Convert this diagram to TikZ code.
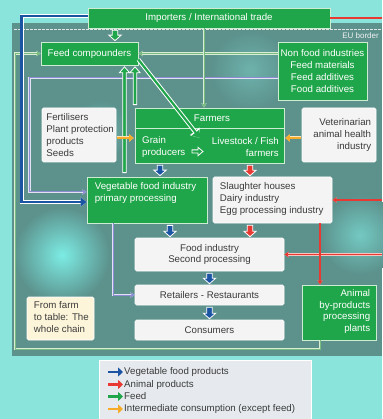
\documentclass[tikz,border=0pt]{standalone}
\usepackage{fontspec}
\setmainfont{Liberation Sans}
\usetikzlibrary{arrows.meta,calc}

\definecolor{grn}{RGB}{32,166,74}
\definecolor{grnedge}{RGB}{205,236,210}
\definecolor{vblue}{RGB}{28,84,164}
\definecolor{ared}{RGB}{232,58,50}
\definecolor{redge}{RGB}{246,196,190}
\definecolor{iorng}{RGB}{246,172,40}
\definecolor{lav}{RGB}{140,140,210}
\definecolor{pgrn}{RGB}{120,188,130}
\definecolor{pgedge}{RGB}{218,238,214}
\definecolor{boxw}{RGB}{244,244,244}
\definecolor{cream}{RGB}{253,245,218}
\definecolor{legbg}{RGB}{230,234,238}
\definecolor{txt}{RGB}{58,58,58}
\definecolor{tealdk}{RGB}{92,145,140}
\definecolor{tealmd}{RGB}{110,178,172}
\definecolor{cyanlt}{RGB}{138,228,220}
\definecolor{cyanbr}{RGB}{124,236,228}

\tikzset{
  base/.style={font=\fontsize{9.7}{11.7}\selectfont},
  gbox/.style={draw=grnedge, line width=0.7pt, fill=grn, inner sep=0pt, base, text=white, align=center},
  wbox/.style={draw=white, line width=0.6pt, fill=boxw, rounded corners=1.5pt, inner sep=0pt, base, text=txt, align=center},
  gtxt/.style={base, text=white, inner sep=0pt},
  wtxt/.style={base, text=txt, inner sep=0pt},
  vegln/.style={draw=vblue, line width=2.4pt, preaction={draw=white, line width=3.8pt},
    -{Triangle[length=6pt,width=9pt]}},
  feedln/.style={draw=grn, line width=2.2pt, preaction={draw=white, line width=4.2pt,
    -{Triangle[length=8.5pt,width=12pt]}},
    -{Triangle[length=7pt,width=9.5pt]}},
  pgln/.style={draw=pgrn, line width=1pt, preaction={draw=pgedge, line width=2.6pt},
    -{Stealth[length=4.5pt,width=5.5pt]}},
  lavln/.style={draw=lav, line width=1pt, preaction={draw=white!75!lav, line width=2.4pt},
    -{Stealth[length=4.5pt,width=5.5pt]}},
  redln/.style={draw=ared, line width=1.1pt, preaction={draw=redge, line width=2.5pt},
    -{Stealth[length=4.5pt,width=5.5pt]}},
  iln/.style={draw=iorng, line width=2pt, preaction={draw=white!70!iorng, line width=3pt},
    -{Triangle[length=4.5pt,width=7pt]}, shorten <=1pt, shorten >=1pt},
  % short, broad downward arrow filling the gap between two stacked boxes
  fatdown/.style={draw=white, line width=0.8pt, fill=#1, line join=miter,
    to path={let \p1=(\tikztostart), \p2=(\tikztotarget) in
      (\x1-2.8pt,\y1-2pt) -- (\x1-2.8pt,\y2+6.5pt) -- (\x1-6.2pt,\y2+6.5pt)
      -- (\x1,\y2+1pt) -- (\x1+6.2pt,\y2+6.5pt) -- (\x1+2.8pt,\y2+6.5pt)
      -- (\x1+2.8pt,\y1-2pt) -- cycle}},
  % long upward feed flow, stem and head as one outlined outline
  fatup/.style={draw=white, line width=0.8pt, fill=grn, line join=miter,
    to path={let \p1=(\tikztostart), \p2=(\tikztotarget) in
      (\x1-1.7pt,\y1) -- (\x1-1.7pt,\y2-7.5pt) -- (\x1-5.2pt,\y2-7.5pt)
      -- (\x1,\y2-1.5pt) -- (\x1+5.2pt,\y2-7.5pt) -- (\x1+1.7pt,\y2-7.5pt)
      -- (\x1+1.7pt,\y1) -- cycle}},
  % small rightward arrow inside the farmers box
  fatright/.style={draw=white, line width=0.8pt, fill=grn, line join=miter,
    to path={let \p1=(\tikztostart), \p2=(\tikztotarget) in
      (\x1,\y1+1.6pt) -- (\x2-5pt,\y1+1.6pt) -- (\x2-5pt,\y1+4.2pt)
      -- (\x2,\y1) -- (\x2-5pt,\y1-4.2pt) -- (\x2-5pt,\y1-1.6pt)
      -- (\x1,\y1-1.6pt) -- cycle}},
  legarr/.style={line width=2.6pt, -{Triangle[length=5pt,width=9pt]}},
  euline/.style={draw=white!80!gray, line width=1pt, dash pattern=on 2.5pt off 1.5pt},
}

\begin{document}
\begin{tikzpicture}[x=1pt,y=-1pt]
\useasboundingbox (0,0) rectangle (382,419);

% backdrop
\fill[cyanlt] (0,0) rectangle (382,419);
\fill[tealdk] (12,23) rectangle (382,356);
\shade[inner color=cyanbr, outer color=tealdk] (62,255) circle (48);
\shade[inner color=tealmd!60!cyanbr, outer color=tealdk] (360,235) circle (40);
\shade[inner color=tealmd, outer color=tealdk] (250,70) circle (40);
\shade[inner color=tealmd, outer color=tealdk] (100,130) circle (30);

% EU border
\draw[euline] (14,29.5) -- (382,29.5);
\node[font=\fontsize{8}{9}\selectfont, text=white!90!gray, anchor=east, inner sep=0pt] (eulbl) at (379,36) {EU border};

% boxes
\node[gbox, minimum width=242pt, minimum height=20pt] (imp) at (209,18) {Importers / International trade};
\node[gbox, minimum width=97pt, minimum height=23pt] (feed) at (89.5,53.5) {Feed compounders};
\node[gbox, minimum width=89pt, minimum height=58pt] (nonfood) at (322.5,71) {Non food industries\\Feed materials\\Feed additives\\Food additives};
\node[gbox, minimum width=149pt, minimum height=55pt] (farm) at (209.5,135.5) {};
\node[wbox, minimum width=74pt, minimum height=54pt] (fert) at (79,135) {};
\node[wbox, minimum width=74pt, minimum height=54pt] (vet) at (339,135) {};
\node[gbox, minimum width=120pt, minimum height=46pt] (veg) at (147,200) {};
\node[wbox, minimum width=119pt, minimum height=46pt] (slh) at (272.5,200) {};
\node[wbox, minimum width=149pt, minimum height=33pt] (fi) at (209.5,254.5) {Food industry\\Second processing};
\node[wbox, minimum width=149pt, minimum height=20pt] (ret) at (209.5,295) {Retailers - Restaurants};
\node[wbox, minimum width=149pt, minimum height=20pt] (con) at (209.5,330) {Consumers};
\node[gbox, minimum width=74pt, minimum height=55pt] (abp) at (339,312.5) {};
\node[wbox, fill=cream, minimum width=67pt, minimum height=43pt] (f2t) at (60.5,318.5) {};
\node[wbox, fill=legbg, rounded corners=0pt, minimum width=212pt, minimum height=62pt] (leg) at (205,391) {};

% box texts
\coordinate (ySep) at (0,128.5);
\draw[grnedge, line width=0.6pt] (farm.west |- ySep) -- (farm.east |- ySep);
\node[gtxt] (farmhd) at (212,118.5) {Farmers};
\node[gtxt, anchor=west, align=left] (grain) at (142,147) {Grain\\producers};
\node[gtxt, anchor=east, align=right] (live) at (279,147) {Livestock / Fish\\farmers};
\node[wtxt, anchor=west, align=left] (fertt) at ([xshift=4.5pt]fert.west) {Fertilisers\\Plant protection\\products\\Seeds};
\node[wtxt, anchor=east, align=right] (vett) at ([xshift=-5pt]vet.east) {Veterinarian\\animal health\\industry};
\node[gtxt, anchor=west, align=left] (vegt) at ([xshift=8pt,yshift=7pt]veg.west) {Vegetable food industry\\primary processing};
\node[wtxt, anchor=west, align=left] (slht) at ([xshift=7pt,yshift=1pt]slh.west) {Slaughter houses\\Dairy industry\\Egg processing industry};
\node[gtxt, anchor=east, align=right] (abpt) at ([xshift=-6pt,yshift=1pt]abp.east) {Animal\\by-products\\processing\\plants};
\node[wtxt, anchor=west, align=left] (f2tt) at ([xshift=7pt,yshift=1.5pt]f2t.west) {From farm\\to table: The\\whole chain};

% legend
\node[wtxt, anchor=west] (lg1) at (124,372) {Vegetable food products};
\node[wtxt, anchor=west] (lg2) at (124,384.5) {Animal products};
\node[wtxt, anchor=west] (lg3) at (124,396.5) {Feed};
\node[wtxt, anchor=west] (lg4) at (124,409) {Intermediate consumption (except feed)};
\draw[legarr, vblue] ([xshift=-16pt]lg1.west) -- ([xshift=-1pt]lg1.west);
\draw[legarr, ared] ([xshift=-16pt]lg2.west) -- ([xshift=-1pt]lg2.west);
\draw[legarr, grn] ([xshift=-16pt]lg3.west) -- ([xshift=-1pt]lg3.west);
\draw[legarr, iorng] ([xshift=-16pt]lg4.west) -- ([xshift=-1pt]lg4.west);

% helper coordinates for connector columns and rows
\coordinate (xLoop) at (15,0);
\coordinate (yLoop) at (0,349);
\coordinate (xAbp) at (320,0);
\coordinate (xRight) at (382,0);
\coordinate (xPF) at (204,0);
\coordinate (xIF) at (115,0);
\coordinate (xF1) at (124.5,0);
\coordinate (xF2) at (135,0);
\coordinate (xRet) at (113,0);
\coordinate (xc1) at (160,0);
\coordinate (xc2) at (250,0);
\coordinate (xc3) at (170,0);
\coordinate (yO) at (0,138);
\coordinate (livein) at (200,138);
\coordinate (gl1) at (192,151.5);
\coordinate (gl2) at (203,151.5);

% intermediate-consumption flows
\draw[lavln] ([yshift=-7pt]nonfood.west) -- ++(-248,0) |- ([yshift=8pt]veg.west);
\draw[lavln] (veg.south -| xRet) |- (ret.west);

% feed flows
\draw[pgln] (abp.south -| xAbp) |- (xLoop |- yLoop) |- (feed.west);
\draw[pgln] (nonfood.west |- feed.east) -- (feed.east);
\draw[pgln] (imp.south -| xPF) -- (farm.north -| xPF);
\path[fatdown=grn] (imp.south -| xIF) to (feed.north -| xIF);
\path[fatup] ($(veg.north -| xF1)+(0,-4)$) to (feed.south -| xF1);
\path[fatup] ($(farm.north -| xF2)+(0,-3)$) to (feed.south -| xF2);
\draw[feedln] ([yshift=-6pt]feed.east) -- (livein);
\path[fatright] (gl1) to (gl2);

% inputs to farmers
\draw[iln] (fert.east |- yO) -- (farm.west |- yO);
\draw[iln] (vet.west |- yO) -- (farm.east |- yO);

% vegetable products
\draw[vegln] ([yshift=2pt]imp.west) -- ++(-66,0) |- ([yshift=-2pt]veg.west);
\path[fatdown=vblue] (farm.south -| xc1) to (veg.north -| xc1);
\path[fatdown=vblue] (veg.south -| xc3) to (fi.north -| xc3);
\path[fatdown=vblue] (fi.south) to (ret.north);
\path[fatdown=vblue] (ret.south) to (con.north);

% animal products
\draw[redln, -] (imp.east) -- (imp.east -| xRight);
\draw[redln] (slh.east -| xRight) -- (slh.east);
\draw[redln] (fi.east -| xRight) -- (fi.east);
\draw[redln] (slh.south -| xAbp) -- (abp.north -| xAbp);
\path[fatdown=ared] (farm.south -| xc2) to (slh.north -| xc2);
\path[fatdown=ared] (slh.south -| xc2) to (fi.north -| xc2);
\end{tikzpicture}
\end{document}
